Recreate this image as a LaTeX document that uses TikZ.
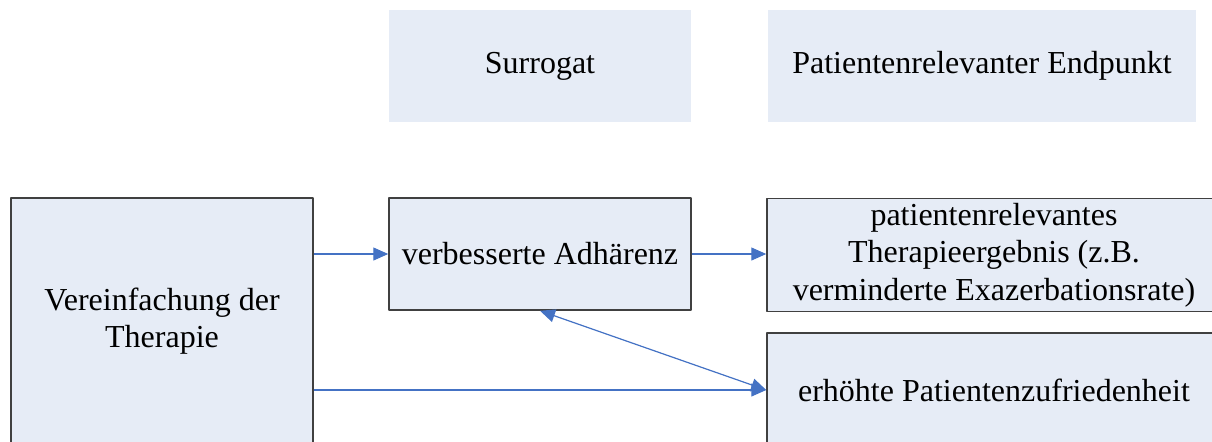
\documentclass[tikz,border=0pt]{standalone}
\usepackage{fontspec}
\setmainfont{Liberation Serif}
\usetikzlibrary{arrows.meta,positioning,calc}
\definecolor{thedge}{RGB}{64,64,64}
\definecolor{thfill}{RGB}{230,236,246}
\definecolor{thlink}{RGB}{68,114,196}
\tikzset{
  thbox/.style={
    fill=thfill, align=center, inner sep=0pt,
    font=\fontsize{16}{18.75}\selectfont
  },
  hd/.style={thbox, minimum height=56pt},
  blk/.style={thbox, draw=thedge, line width=0.75pt},
  arr/.style={-{Triangle[length=7.5pt,width=6.5pt]}, draw=thlink, fill=thlink, line width=0.6pt},
  darr/.style={arr, {Triangle[length=7.5pt,width=6.5pt]}-{Triangle[length=7.5pt,width=6.5pt]}},
  every picture/.append style={line join=round}
}

\begin{document}
\begin{tikzpicture}[x=0.5pt, y=-0.5pt]
  \useasboundingbox (0,0) rectangle (1212,441);
  % column heads
  \node[hd, minimum width=151pt] (sur) at (540,66) {Surrogat};
  \node[hd, minimum width=214pt] (ep) at (982,66) {Patientenrelevanter Endpunkt};
  % boxes
  \node[blk, minimum width=151pt, minimum height=123pt] (vt) at (162,321) {Vereinfachung der\\Therapie};
  \node[blk, minimum width=151pt, minimum height=56pt] (adh) at (540,254) {verbesserte Adhärenz};
  \node[blk, minimum width=227pt, minimum height=56.5pt] (erg) at (994,255)
    {patientenrelevantes\\Therapieergebnis (z.B.\\verminderte Exazerbationsrate)};
  \node[blk, minimum width=227pt, minimum height=57pt] (zuf) at (994,390) {erhöhte Patientenzufriedenheit};
  % links
  \draw[arr] (vt.east |- adh.west) -- (adh.west);
  \draw[arr] (adh.east) -- (adh.east -| erg.west);
  \draw[arr] (vt.east |- zuf.west) -- (zuf.west);
  \draw[darr] (zuf.west) -- (adh.south);
\end{tikzpicture}
\end{document}
